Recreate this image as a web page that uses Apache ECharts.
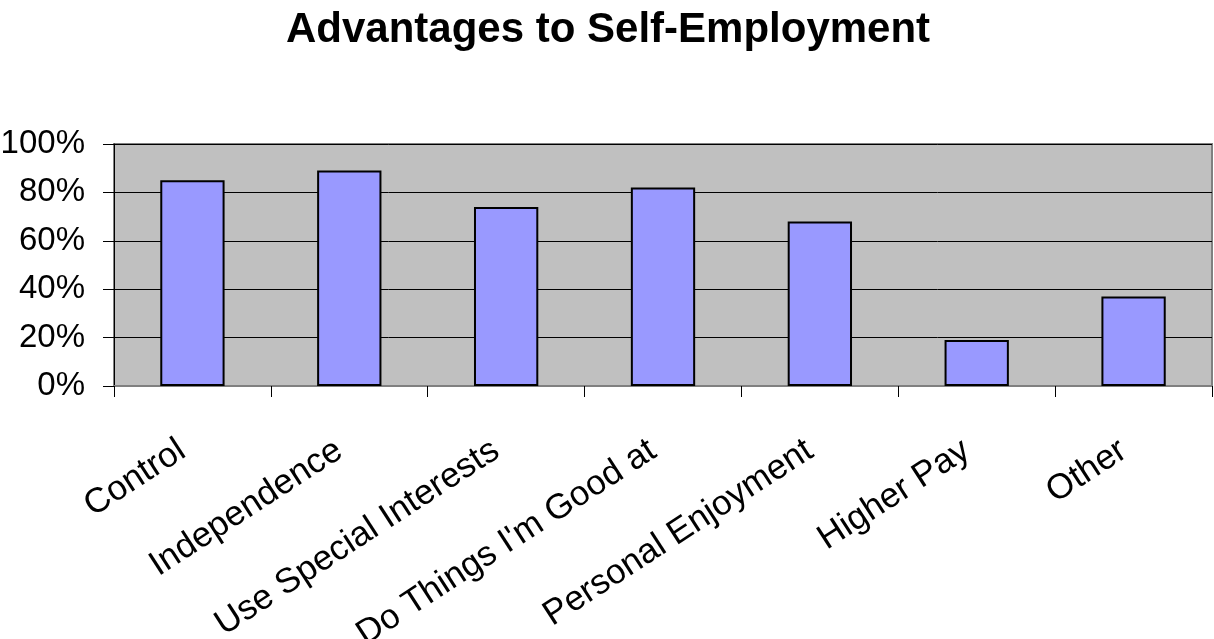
<!DOCTYPE html>
<html>
<head>
<meta charset="utf-8">
<script src="https://cdn.jsdelivr.net/npm/echarts@6/dist/echarts.min.js"></script>
<style>
  html, body { margin: 0; padding: 0; background: #fff; }
  #chart { width: 1214px; height: 639px; }
</style>
</head>
<body>
<div id="chart"></div>
<script>
// Survey results: share of respondents naming each advantage
const categories = ['Control', 'Independence', 'Use Special Interests', "Do Things I'm Good at", 'Personal Enjoyment', 'Higher Pay', 'Other'];
const percentages = [85, 89, 74, 82, 68, 19, 37];
const yTicks = { min: 0, max: 100, interval: 20 };
const titleText = 'Advantages to Self-Employment';

const chart = echarts.init(document.getElementById('chart'), null, { renderer: 'canvas' });
const font = 'Liberation Sans, Arial, sans-serif';

chart.setOption({
  animation: false,
  backgroundColor: '#ffffff',
  title: {
    text: titleText,
    left: 281,
    top: 4,
    textStyle: { fontFamily: font, fontWeight: 'bold', fontSize: 42, color: '#000' }
  },
  grid: {
    left: 114, right: 2, top: 144, bottom: 253,
    show: true,
    backgroundColor: '#c0c0c0',
    borderColor: '#808080',
    borderWidth: 2,
    containLabel: false,
    outerBoundsMode: 'none'
  },
  xAxis: {
    type: 'category',
    data: categories,
    boundaryGap: true,
    axisLine: { show: true, lineStyle: { color: '#808080', width: 2 } },
    axisTick: { show: true, alignWithLabel: false, length: 11, lineStyle: { color: '#000', width: 1 } },
    axisLabel: {
      interval: 0,
      rotate: 33,
      margin: 55,
      padding: [0, 12, 0, 0],
      fontFamily: font,
      fontSize: 35,
      color: '#000'
    },
    splitLine: { show: false }
  },
  yAxis: {
    type: 'value',
    min: yTicks.min,
    max: yTicks.max,
    interval: yTicks.interval,
    axisLine: { show: true, lineStyle: { color: '#000', width: 1 } },
    axisTick: { show: true, length: 11, lineStyle: { color: '#000', width: 1 } },
    axisLabel: {
      formatter: '{value}%',
      margin: 29,
      fontFamily: font,
      fontSize: 33,
      color: '#000'
    },
    splitLine: { show: true, lineStyle: { color: '#000', width: 1 } }
  },
  series: [{
    type: 'bar',
    data: percentages,
    barCategoryGap: '59%',
    itemStyle: { color: '#9999ff', borderColor: '#000', borderWidth: 2 }
  }]
});
</script>
</body>
</html>
